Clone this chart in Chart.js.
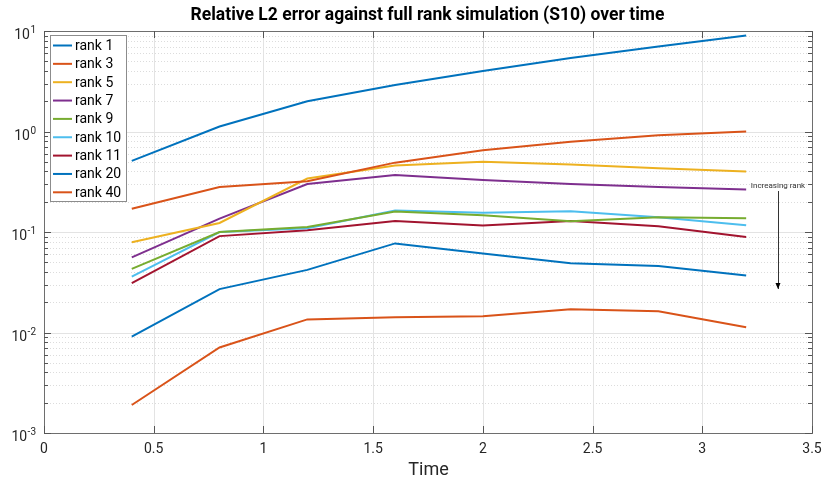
<!DOCTYPE html>
<html>
<head>
<meta charset="utf-8">
<script src="https://cdn.jsdelivr.net/npm/chart.js@4/dist/chart.umd.min.js"></script>
<style>
  html, body { margin: 0; padding: 0; background: #ffffff; }
  #wrap { width: 826px; height: 477px; }
</style>
</head>
<body>
<div id="wrap"><canvas id="c" width="826" height="477"></canvas></div>
<script>
// Sample times
const times = [0.4, 0.8, 1.2, 1.6, 2.0, 2.4, 2.8, 3.2];

// Relative L2 error per rank
const rank1  = [0.51, 1.12, 2.0, 2.9, 4.0, 5.4, 7.0, 9.0];
const rank3  = [0.17, 0.28, 0.32, 0.49, 0.65, 0.79, 0.92, 1.0];
const rank5  = [0.079, 0.123, 0.34, 0.46, 0.50, 0.47, 0.43, 0.40];
const rank7  = [0.056, 0.136, 0.30, 0.37, 0.33, 0.30, 0.28, 0.265];
const rank9  = [0.043, 0.10, 0.112, 0.16, 0.147, 0.128, 0.14, 0.137];
const rank10 = [0.036, 0.10, 0.109, 0.164, 0.155, 0.161, 0.14, 0.117];
const rank11 = [0.031, 0.091, 0.104, 0.129, 0.116, 0.129, 0.114, 0.089];
const rank20 = [0.0091, 0.027, 0.042, 0.077, 0.061, 0.049, 0.046, 0.037];
const rank40 = [0.0019, 0.0071, 0.0135, 0.0142, 0.0145, 0.017, 0.0163, 0.0113];

const seriesLabels = ['rank 1', 'rank 3', 'rank 5', 'rank 7', 'rank 9', 'rank 10', 'rank 11', 'rank 20', 'rank 40'];
const seriesValues = [rank1, rank3, rank5, rank7, rank9, rank10, rank11, rank20, rank40];
const seriesColors = ['#0072BD', '#D95319', '#EDB120', '#7E2F8E', '#77AC30', '#4DBEEE', '#A2142F', '#0072BD', '#D95319'];

// Axis ticks
const xTicks = [0, 0.5, 1, 1.5, 2, 2.5, 3, 3.5];
const yExponents = [-3, -2, -1, 0, 1];

const FONT = '"Roboto", "Liberation Sans", sans-serif';

const datasets = seriesLabels.map((label, i) => ({
  label,
  data: times.map((t, j) => ({ x: t, y: seriesValues[i][j] })),
  borderColor: seriesColors[i],
  backgroundColor: seriesColors[i],
  borderWidth: 2,
  pointRadius: 0,
  tension: 0,
  fill: false
}));

// Grid, box, ticks, labels, legend and annotation drawn around the plot
const framePlugin = {
  id: 'frame',
  beforeDatasetsDraw(chart) {
    const { ctx, chartArea: a, scales: { x, y } } = chart;
    ctx.save();
    // minor y grid (dotted)
    ctx.strokeStyle = '#dcdcdc';
    ctx.lineWidth = 1;
    ctx.setLineDash([1, 2]);
    for (let e = -3; e < 1; e++) {
      for (let m = 2; m <= 9; m++) {
        const py = Math.round(y.getPixelForValue(m * Math.pow(10, e))) + 0.5;
        ctx.beginPath(); ctx.moveTo(a.left, py); ctx.lineTo(a.right, py); ctx.stroke();
      }
    }
    ctx.setLineDash([]);
    // major grid
    ctx.strokeStyle = '#e3e3e3';
    yExponents.forEach(e => {
      const py = Math.round(y.getPixelForValue(Math.pow(10, e))) + 0.5;
      ctx.beginPath(); ctx.moveTo(a.left, py); ctx.lineTo(a.right, py); ctx.stroke();
    });
    xTicks.forEach(v => {
      const px = Math.round(x.getPixelForValue(v)) + 0.5;
      ctx.beginPath(); ctx.moveTo(px, a.top); ctx.lineTo(px, a.bottom); ctx.stroke();
    });
    ctx.restore();
  },
  afterDatasetsDraw(chart) {
    const { ctx, chartArea: a, scales: { x, y } } = chart;
    ctx.save();
    // box
    ctx.strokeStyle = '#6e6e6e';
    ctx.lineWidth = 1;
    ctx.strokeRect(Math.round(a.left) + 0.5, Math.round(a.top) + 0.5,
                   Math.round(a.right - a.left), Math.round(a.bottom - a.top));
    ctx.strokeStyle = '#555555';
    // y ticks inward, both sides
    for (let e = -3; e <= 1; e++) {
      for (let m = 1; m <= 9; m++) {
        const v = m * Math.pow(10, e);
        if (v > 10) break;
        const py = Math.round(y.getPixelForValue(v)) + 0.5;
        const len = m === 1 ? 7 : 4;
        ctx.beginPath();
        ctx.moveTo(a.left, py); ctx.lineTo(a.left + len, py);
        ctx.moveTo(a.right, py); ctx.lineTo(a.right - len, py);
        ctx.stroke();
      }
    }
    // x ticks inward, top and bottom
    xTicks.forEach(v => {
      const px = Math.round(x.getPixelForValue(v)) + 0.5;
      ctx.beginPath();
      ctx.moveTo(px, a.bottom); ctx.lineTo(px, a.bottom - 7);
      ctx.moveTo(px, a.top); ctx.lineTo(px, a.top + 7);
      ctx.stroke();
    });

    // x tick labels
    ctx.fillStyle = '#262626';
    ctx.font = '14px ' + FONT;
    ctx.textAlign = 'center';
    ctx.textBaseline = 'alphabetic';
    xTicks.forEach(v => {
      ctx.fillText(String(v), x.getPixelForValue(v), a.bottom + 20);
    });
    // y tick labels 10^n
    yExponents.forEach(e => {
      const py = y.getPixelForValue(Math.pow(10, e));
      const sup = String(e);
      ctx.font = '10px ' + FONT;
      const supW = ctx.measureText(sup).width;
      ctx.textAlign = 'right';
      ctx.textBaseline = 'alphabetic';
      ctx.fillText(sup, a.left - 8, py + 2);
      ctx.font = '14px ' + FONT;
      ctx.fillText('10', a.left - 8.5 - supW, py + 8);
    });
    // axis title
    ctx.font = '18px ' + FONT;
    ctx.textAlign = 'center';
    ctx.textBaseline = 'alphabetic';
    ctx.fillText('Time', (a.left + a.right) / 2 + 0.5, 475);
    // chart title
    ctx.font = 'bold 17.5px ' + FONT;
    ctx.fillStyle = '#000000';
    ctx.fillText('Relative L2 error against full rank simulation (S10) over time', (a.left + a.right) / 2 - 0.5, 20);

    // annotation: arrow with label
    const ax = x.getPixelForValue(3.345);
    ctx.font = '8px ' + FONT;
    ctx.fillStyle = '#333333';
    ctx.textBaseline = 'middle';
    ctx.fillText('Increasing rank', ax, 186);
    ctx.strokeStyle = '#333333';
    ctx.beginPath(); ctx.moveTo(Math.round(ax) + 0.5, 191); ctx.lineTo(Math.round(ax) + 0.5, 289); ctx.stroke();
    ctx.fillStyle = '#000000';
    ctx.beginPath();
    ctx.moveTo(ax, 289); ctx.lineTo(ax - 2.5, 283); ctx.lineTo(ax + 2.5, 283); ctx.closePath(); ctx.fill();

    // legend
    const lx = 50, ly = 35, lw = 76, lh = 166, row = 18.35;
    ctx.fillStyle = '#ffffff';
    ctx.fillRect(lx, ly, lw, lh);
    ctx.strokeStyle = '#8c8c8c';
    ctx.lineWidth = 1;
    ctx.strokeRect(lx + 0.5, ly + 0.5, lw, lh);
    ctx.font = '14px ' + FONT;
    ctx.textAlign = 'left';
    ctx.textBaseline = 'middle';
    chart.data.datasets.forEach((ds, i) => {
      const cy = ly + 10.5 + i * row;
      ctx.strokeStyle = ds.borderColor;
      ctx.lineWidth = 2;
      ctx.beginPath(); ctx.moveTo(lx + 3, cy); ctx.lineTo(lx + 22, cy); ctx.stroke();
      ctx.fillStyle = '#000000';
      ctx.fillText(ds.label, lx + 25, cy + 1);
    });
    ctx.restore();
  }
};

new Chart(document.getElementById('c'), {
  type: 'line',
  data: { datasets },
  options: {
    responsive: false,
    animation: false,
    layout: { padding: { left: 44, right: 14, top: 31, bottom: 44 } },
    plugins: { legend: { display: false }, tooltip: { enabled: false } },
    scales: {
      x: { type: 'linear', min: 0, max: 3.5, display: false },
      y: { type: 'logarithmic', min: 0.001, max: 10, display: false }
    }
  },
  plugins: [framePlugin]
});
</script>
</body>
</html>
